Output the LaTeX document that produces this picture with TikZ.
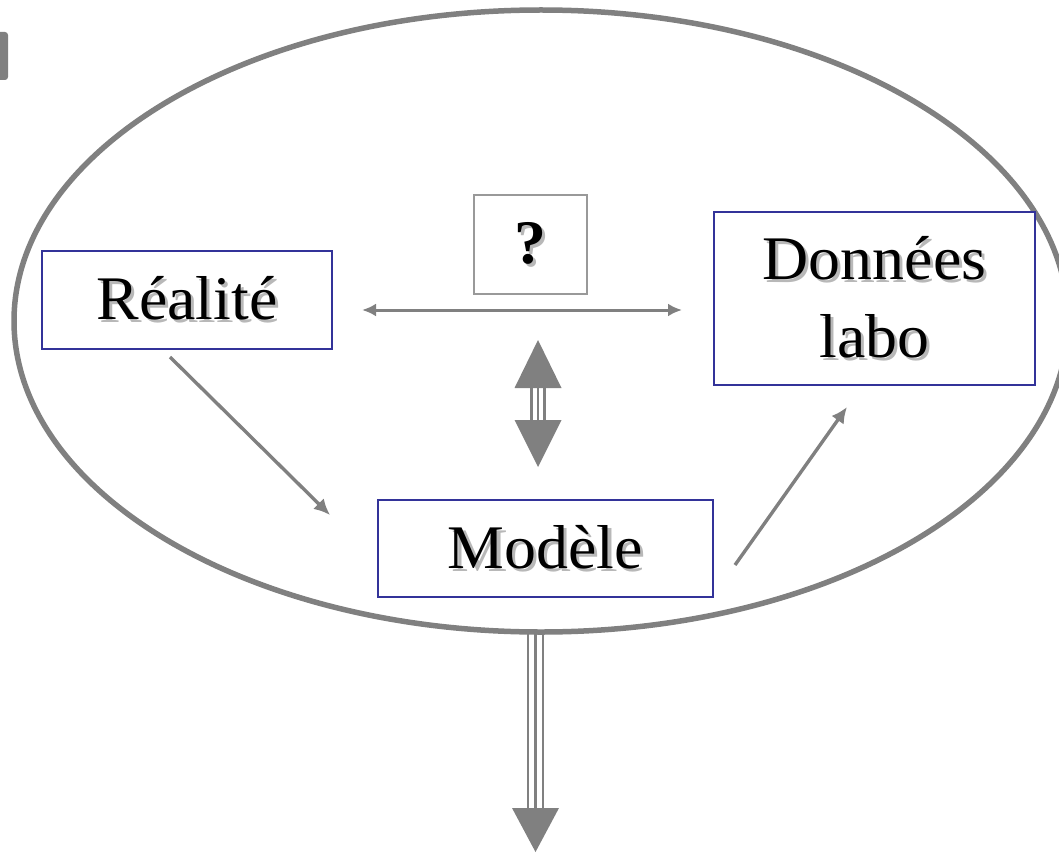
\documentclass[tikz,border=0pt]{standalone}
\usepackage{fontspec}
\setmainfont{Liberation Serif}
\usepackage{graphicx}
\usetikzlibrary{arrows.meta}
\definecolor{lgray}{HTML}{808080}
\definecolor{boxblue}{HTML}{333399}
\newcommand\shd[1]{\scalebox{1.03}[1]{\rlap{\kern3pt\raisebox{-3pt}{\textcolor{black!28}{#1}}}#1}}
\begin{document}
\begin{tikzpicture}[x=1pt,y=-1pt,
  bluebox/.style={draw=boxblue,line width=1.8pt,fill=white,inner sep=0pt,
    font=\fontsize{62}{78}\selectfont,align=center},
  qbox/.style={draw=black!40,line width=1.8pt,fill=white,inner sep=0pt,
    font=\bfseries\fontsize{62}{62}\selectfont},
  thinarrow/.style={draw=lgray,line width=3.4pt,-{Latex[length=16pt,width=15pt]}},
  twoarrow/.style={draw=lgray,line width=3pt,{Latex[length=14pt,width=13pt]}-{Latex[length=14pt,width=13pt]}},
  stripe/.style={draw=lgray,line width=2.6pt},
  bighead/.style={fill=lgray}
]
\clip (0,0) rectangle (1059,853);
% outer ellipse
\draw[lgray,line width=5.5pt] (541,321) ellipse [x radius=527pt,y radius=311pt];
% corner mark
\fill[lgray,rounded corners=3pt] (-6,32) rectangle (8,80);

% boxes
\node[bluebox,minimum width=290pt,minimum height=98pt] (real) at (187,300) {\shd{Réalité}};
\node[bluebox,minimum width=321pt,minimum height=173pt] (donn) at (874.5,298.5) {\shd{Données}\\\shd{labo}};
\node[bluebox,minimum width=335pt,minimum height=97pt] (mod) at (545.5,548.5) {\shd{Modèle}};
\node[qbox,minimum width=113pt,minimum height=99pt] (q) at (530.5,244.5) {\shd{?}};

% horizontal double arrow
\coordinate (hl) at (362,310);
\coordinate (hr) at (682,310);
\draw[twoarrow] (hl) -- (hr);

% diagonal arrows
\coordinate (d1s) at (170,357);
\coordinate (d1e) at (330,515);
\draw[thinarrow] (d1s) -- (d1e);
\coordinate (d2s) at (735,565);
\coordinate (d2e) at (847,407);
\draw[thinarrow] (d2s) -- (d2e);

% big vertical double arrow
\coordinate (vt) at (538,340);
\coordinate (vb) at (538,467);
\foreach \dx in {-6.5,0,6.5}
  \draw[stripe] ([xshift=\dx pt,yshift=-40pt]vt) -- ([xshift=\dx pt,yshift=40pt]vb);
\fill[bighead] (vt) -- ([xshift=23.5pt,yshift=-48pt]vt) -- ([xshift=-23.5pt,yshift=-48pt]vt) -- cycle;
\fill[bighead] (vb) -- ([xshift=23.5pt,yshift=47pt]vb) -- ([xshift=-23.5pt,yshift=47pt]vb) -- cycle;

% bottom arrow
\coordinate (bs) at (535.5,630);
\coordinate (be) at (535.5,852);
\foreach \dx in {-7.5,0,7.5}
  \draw[stripe] ([xshift=\dx pt]bs) -- ([xshift=\dx pt,yshift=40pt]be);
\fill[bighead] (be) -- ([xshift=23.5pt,yshift=44pt]be) -- ([xshift=-23.5pt,yshift=44pt]be) -- cycle;
\end{tikzpicture}
\end{document}
